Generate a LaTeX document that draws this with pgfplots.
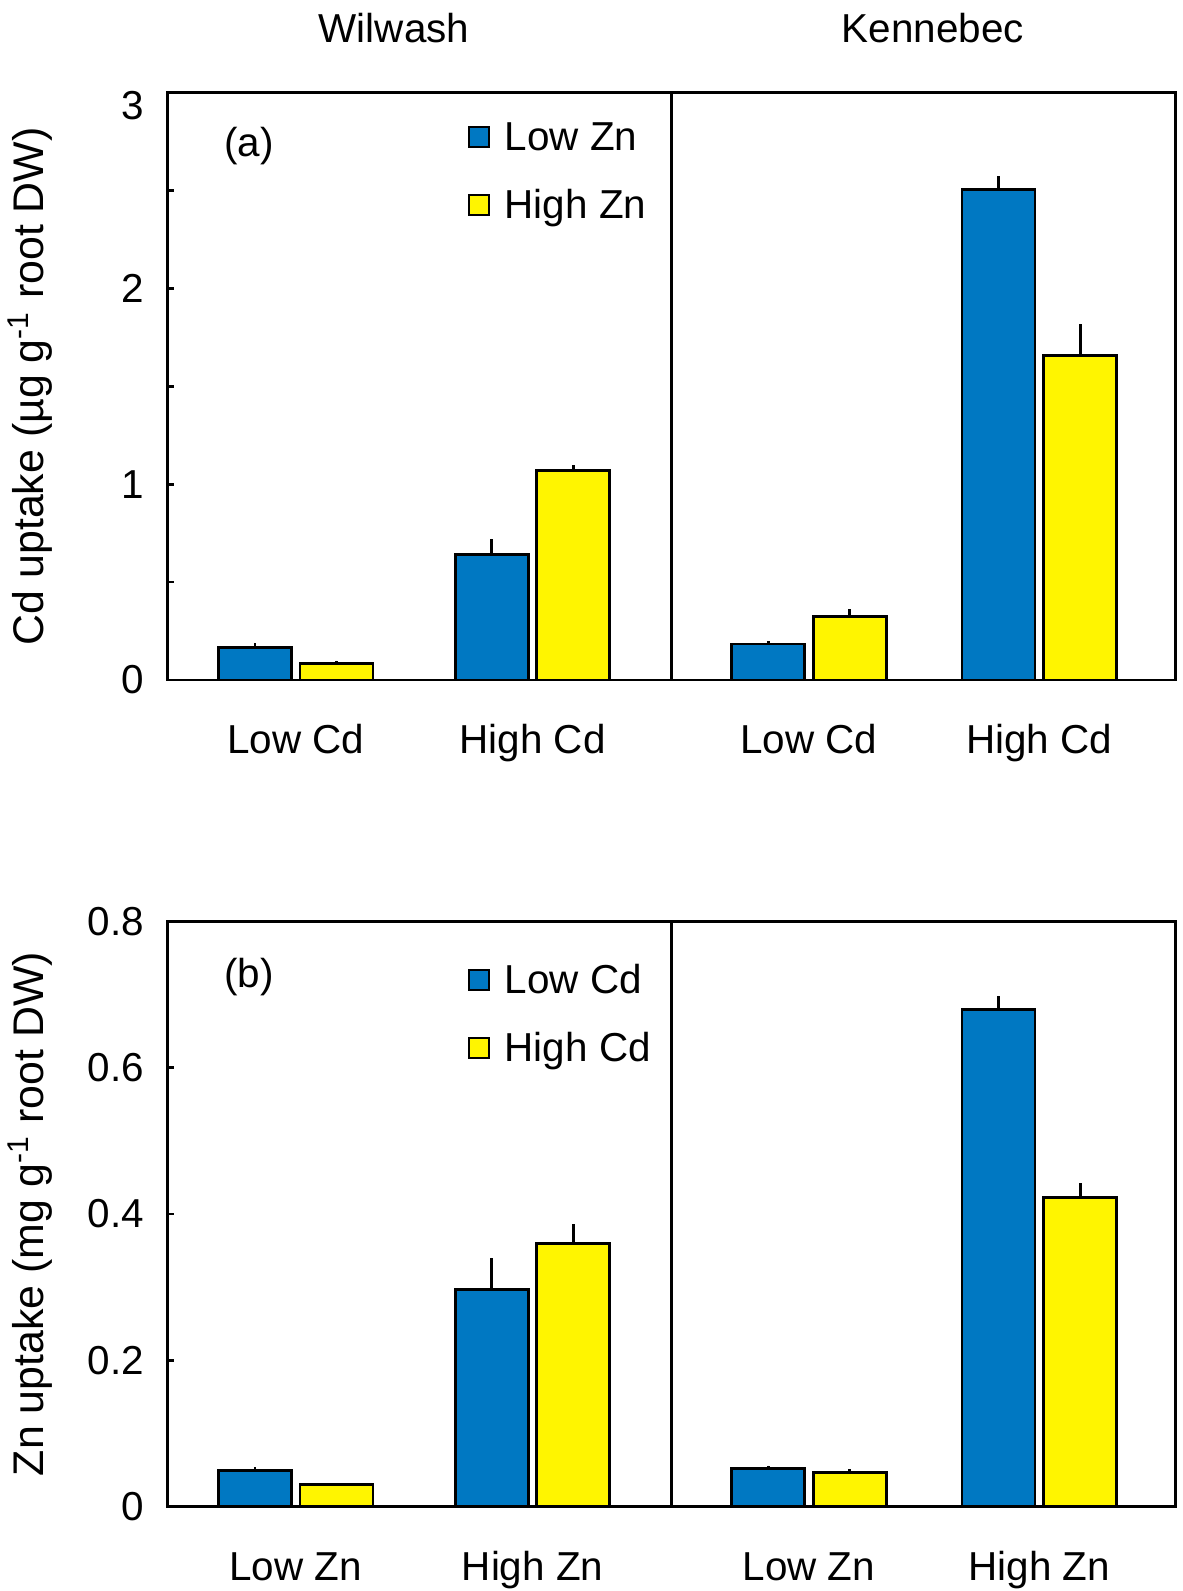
\documentclass[border=0pt]{standalone}
\usepackage{fontspec}
\setmainfont{Liberation Sans}
\usepackage{pgfplots}
\pgfplotsset{compat=1.18}

\definecolor{barblue}{RGB}{0,120,194}
\definecolor{baryellow}{RGB}{255,245,0}

\newcommand{\lbl}{\fontsize{11.5}{13.8}\selectfont}

\pgfplotsset{
  panel/.style={
    scale only axis,
    width=100.8mm,
    xmin=0, xmax=10,
    ymin=0,
    enlargelimits=false,
    clip=false,
    ybar,
    bar width=7.3mm,
    axis line style={line width=0.8pt},
    every tick/.style={black, line width=0.8pt},
    tick align=inside,
    ytick pos=left,
    major tick length=0.65mm,
    minor tick length=0.65mm,
    xtick={1.272,3.622,6.363,8.649},
    xtick style={draw=none},
    xticklabel style={font=\lbl, anchor=base, yshift=-7.37mm},
    yticklabel style={font=\lbl, anchor=east, inner sep=0pt, xshift=-2.3mm},
    /pgf/number format/assume math mode=true,
    every axis y label/.style={at={(axis description cs:-0.1364,0.5)}, rotate=90, anchor=center,
      font=\fontsize{12.2}{14}\selectfont},
    legend style={draw=none, fill=none, anchor=north west, inner sep=0pt,
      row sep=3.9mm, column sep=1.5mm, font=\lbl,
      nodes={inner sep=0pt, text height=2.9mm, text depth=0pt}},
    legend cell align=left,
    legend image code/.code={\draw[#1, draw=black, line width=0.6pt] (0mm,-1.1mm) rectangle (2mm,0.9mm);},
    error bars/y dir=plus,
    error bars/y explicit,
    error bars/error mark=none,
    error bars/error bar style={black, line width=0.8pt},
  },
  blues/.style={fill=barblue, draw=black, line width=0.8pt, bar shift=-4.08mm},
  yellows/.style={fill=baryellow, draw=black, line width=0.8pt, bar shift=4.08mm},
}

\begin{document}
\begin{tikzpicture}
\useasboundingbox (0,0) rectangle (118.2mm,159.1mm);

% (a) Cd uptake
\begin{axis}[panel, at={(16.75mm,91.1mm)}, anchor=south west,
  height=58.75mm, ymax=3,
  ytick={0,1,2}, minor ytick={0.5,1.5,2.5},
  extra y ticks={3},
  extra y tick style={yticklabel style={yshift=-1.3mm}},
  xticklabels={Low Cd,High Cd,Low Cd,High Cd},
  ylabel={Cd uptake (µg g\textsuperscript{-1} root DW)},
  legend style={at={(axis description cs:0.2971,0.952)}},
]
\addplot[blues] coordinates {
  (1.272,0.165) +- (0,0.025)
  (3.622,0.642) +- (0,0.078)
  (6.363,0.184) +- (0,0.013)
  (8.649,2.504) +- (0,0.068)
};
\addlegendentry{Low Zn}
\addplot[yellows] coordinates {
  (1.272,0.083) +- (0,0.016)
  (3.622,1.071) +- (0,0.026)
  (6.363,0.325) +- (0,0.037)
  (8.649,1.658) +- (0,0.161)
};
\addlegendentry{High Zn}
\draw[line width=0.6pt] (axis cs:5,0) -- (axis cs:5,3);
\node[font=\lbl] at (axis description cs:0.0809,0.9086) {(a)};
\node[font=\lbl, anchor=base] at ([yshift=4.97mm]axis description cs:0.2247,1) {Wilwash};
\node[font=\lbl, anchor=base] at ([yshift=4.97mm]axis description cs:0.7594,1) {Kennebec};
\end{axis}

% (b) Zn uptake
\begin{axis}[panel, at={(16.75mm,8.43mm)}, anchor=south west,
  height=58.54mm, ymax=0.8,
  ytick={0,0.2,0.4,0.6,0.8},
  yticklabel style={/pgf/number format/fixed, /pgf/number format/precision=1},
  xticklabels={Low Zn,High Zn,Low Zn,High Zn},
  ylabel={Zn uptake (mg g\textsuperscript{-1} root DW)},
  legend style={at={(axis description cs:0.2971,0.927)}},
]
\addplot[blues] coordinates {
  (1.272,0.049) +- (0,0.005)
  (3.622,0.297) +- (0,0.043)
  (6.363,0.052) +- (0,0.004)
  (8.649,0.679) +- (0,0.019)
};
\addlegendentry{Low Cd}
\addplot[yellows] coordinates {
  (1.272,0.030) +- (0,0.002)
  (3.622,0.360) +- (0,0.026)
  (6.363,0.047) +- (0,0.004)
  (8.649,0.423) +- (0,0.019)
};
\addlegendentry{High Cd}
\draw[line width=0.6pt] (axis cs:5,0) -- (axis cs:5,0.8);
\node[font=\lbl] at (axis description cs:0.0809,0.9048) {(b)};
\end{axis}
\end{tikzpicture}
\end{document}
